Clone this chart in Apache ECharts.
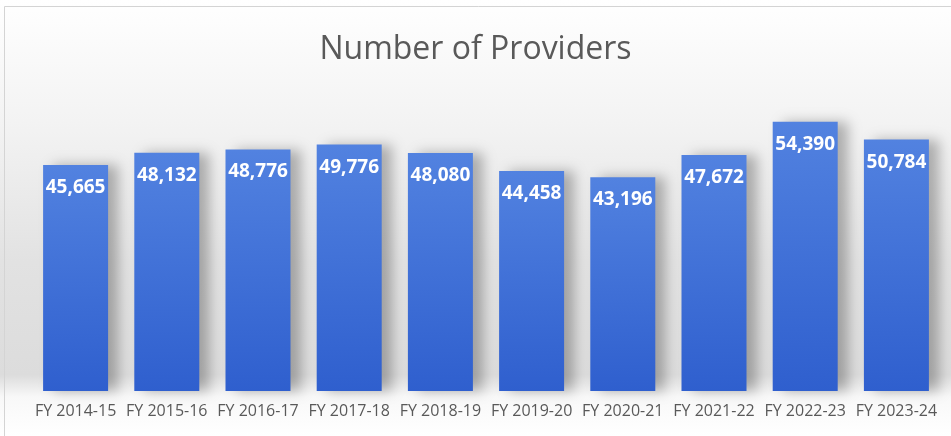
<!DOCTYPE html>
<html>
<head>
<meta charset="utf-8">
<script src="https://cdn.jsdelivr.net/npm/echarts@6/dist/echarts.min.js"></script>
<style>
  html, body { margin: 0; padding: 0; background: #fff; }
  #chart { width: 951px; height: 436px; }
</style>
</head>
<body>
<div id="chart"></div>
<script>
// fiscal years and provider counts
const years = ['FY 2014-15', 'FY 2015-16', 'FY 2016-17', 'FY 2017-18', 'FY 2018-19',
               'FY 2019-20', 'FY 2020-21', 'FY 2021-22', 'FY 2022-23', 'FY 2023-24'];
const providers = [45665, 48132, 48776, 49776, 48080, 44458, 43196, 47672, 54390, 50784];

const myChart = echarts.init(document.getElementById('chart'));

myChart.setOption({
    backgroundColor: new echarts.graphic.LinearGradient(0, 0, 0, 1, [
        { offset: 0, color: '#ffffff' },
        { offset: 0.3, color: '#f2f2f2' },
        { offset: 0.6, color: '#e2e2e2' },
        { offset: 0.86, color: '#dcdcdc' },
        { offset: 0.91, color: '#f8f8f8' },
        { offset: 1, color: '#ffffff' }
    ]),
    animation: false,
    title: {
        text: 'Number of Providers',
        left: 'center',
        top: 29,
        textStyle: {
            fontFamily: 'Open Sans',
            fontSize: 32,
            fontWeight: 'normal',
            color: '#595959'
        }
    },
    grid: {
        left: 30,
        right: 9,
        top: 94,
        bottom: 45
    },
    xAxis: {
        type: 'category',
        data: years,
        axisLine: { show: false },
        axisTick: { show: false },
        axisLabel: {
            interval: 0,
            margin: 12,
            fontFamily: 'Open Sans',
            fontSize: 16,
            color: '#595959'
        }
    },
    yAxis: {
        type: 'value',
        min: 0,
        max: 60000,
        show: false,
        splitLine: { show: false }
    },
    graphic: [{
        type: 'rect',
        shape: { x: 4.5, y: 6.5, width: 1000, height: 1000 },
        style: { fill: 'none', stroke: '#d4d4d4', lineWidth: 1 },
        silent: true
    }],
    series: [{
        name: 'Providers',
        type: 'bar',
        data: providers,
        barWidth: 65,
        itemStyle: {
            color: new echarts.graphic.LinearGradient(0, 0, 0, 1, [
                { offset: 0, color: '#5282e0' },
                { offset: 1, color: '#2f5fce' }
            ]),
            shadowColor: 'rgba(0, 0, 0, 0.28)',
            shadowBlur: 12,
            shadowOffsetX: 10,
            shadowOffsetY: 0
        },
        label: {
            show: true,
            position: 'insideTop',
            distance: 13,
            color: '#ffffff',
            fontFamily: 'Open Sans',
            fontWeight: 'bold',
            fontSize: 19,
            formatter: function (p) {
                return p.value.toLocaleString('en-US');
            }
        }
    }]
});
</script>
</body>
</html>
